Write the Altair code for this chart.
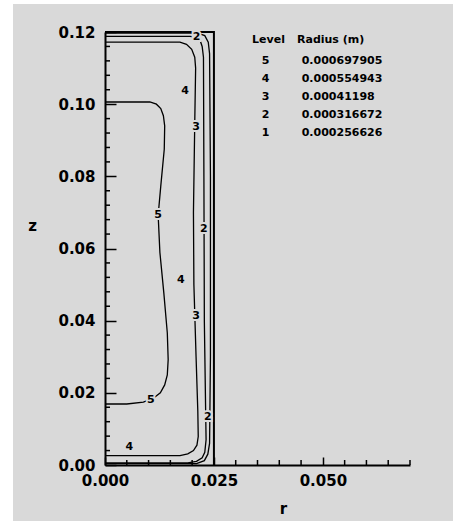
import altair as alt
import pandas as pd

# ---------------- data ----------------
x_tick_labels = [0.0, 0.025, 0.05]
x_minor_ticks = [0.005, 0.01, 0.015, 0.02, 0.03, 0.035, 0.04, 0.045, 0.055, 0.06, 0.065, 0.07]
y_tick_labels = [0.0, 0.02, 0.04, 0.06, 0.08, 0.10, 0.12]
y_minor_ticks = [0.004, 0.008, 0.012, 0.016, 0.024, 0.028, 0.032, 0.036, 0.044, 0.048,
                 0.052, 0.056, 0.064, 0.068, 0.072, 0.076, 0.084, 0.088, 0.092, 0.096,
                 0.104, 0.108, 0.112, 0.116]

# contour lines (r, z)
c5_r = [0, 0.0103, 0.0118, 0.0128, 0.0134, 0.0137, 0.0136, 0.0128, 0.0122, 0.0126, 0.0135, 0.0143, 0.0145, 0.0143, 0.0137, 0.0127, 0.0111, 0.0088, 0.0050, 0]
c5_z = [0.1006, 0.1006, 0.1000, 0.0988, 0.0968, 0.0940, 0.0875, 0.0773, 0.0692, 0.0589, 0.0477, 0.0366, 0.0292, 0.0250, 0.0222, 0.0200, 0.0185, 0.0174, 0.0169, 0.0169]

c3_r = [0, 0.0172, 0.0187, 0.0199, 0.0206, 0.0208, 0.0206, 0.0203, 0.0204, 0.0209, 0.0213, 0.0214, 0.0211, 0.0203, 0.0190, 0.0172, 0]
c3_z = [0.1172, 0.1172, 0.1166, 0.1152, 0.1130, 0.1100, 0.0950, 0.0700, 0.0500, 0.0300, 0.0150, 0.0079, 0.0055, 0.0040, 0.0031, 0.0026, 0.0026]

c2_r = [0, 0.0195, 0.0210, 0.0218, 0.0223, 0.0226, 0.0227, 0.0228, 0.0231, 0.0232, 0.0229, 0.0223, 0.0210, 0.0190, 0]
c2_z = [0.1188, 0.1188, 0.1186, 0.1178, 0.1160, 0.1130, 0.0800, 0.0400, 0.0150, 0.0070, 0.0035, 0.0020, 0.0010, 0.0006, 0.0006]

c1_r = [0, 0.0213, 0.0229, 0.0237, 0.0240, 0.0242, 0.0242, 0.0240, 0.0236, 0.0228, 0.0210, 0]
c1_z = [0.1197, 0.1197, 0.1190, 0.1172, 0.1140, 0.0800, 0.0300, 0.0060, 0.0030, 0.0012, 0.0004, 0.0004]

box_r = [0, 0.025, 0.025]
box_z = [0.12, 0.12, 0.0]

# contour labels
lab_text = ["2", "4", "3", "5", "2", "4", "3", "5", "2", "4"]
lab_r = [0.0210, 0.0184, 0.0209, 0.0122, 0.0227, 0.0174, 0.0209, 0.0105, 0.0236, 0.0056]
lab_z = [0.1185, 0.1036, 0.0936, 0.0692, 0.0655, 0.0514, 0.0414, 0.0181, 0.0134, 0.0049]

# legend table
legend_levels = ["5", "4", "3", "2", "1"]
legend_radius = ["0.000697905", "0.000554943", "0.00041198", "0.000316672", "0.000256626"]

# ---------------- build tables ----------------
rows = []
for name, rr, zz in [("5", c5_r, c5_z), ("3", c3_r, c3_z), ("2", c2_r, c2_z), ("1", c1_r, c1_z)]:
    for i, (a, b) in enumerate(zip(rr, zz)):
        rows.append({"line": name, "i": i, "r": a, "z": b})
lines_df = pd.DataFrame(rows)
box_df = pd.DataFrame({"r": box_r, "z": box_z, "i": range(len(box_r))})
lab_df = pd.DataFrame({"t": lab_text, "r": lab_r, "z": lab_z})
leg_df = pd.DataFrame({"level": legend_levels, "radius": legend_radius, "row": range(len(legend_levels))})

W, H = 305, 433
PADL, PADT = 105, 32
FONT = "DejaVu Sans"
GRAY = "#d9d9d9"
YTICK, XTICK = 11, 8

xscale = alt.Scale(domain=[0, 0.07], nice=False, zero=False)
yscale = alt.Scale(domain=[0, 0.12], nice=False, zero=False)

# major ticks point inward (negative size given as an expression); labels offset to compensate
xaxis = alt.Axis(values=x_tick_labels, format=".3f", ticks=True, tickSize={"expr": str(-XTICK)},
                 tickColor="black", tickWidth=1.5, grid=False,
                 domainColor="black", domainWidth=2, labelFont=FONT, labelFontWeight="bold",
                 labelFontSize=15, labelColor="black", labelPadding=8 + XTICK, labelFlush=False,
                 labelOverlap=False, title="r", titleX=178, titleY=43, titleAlign="center",
                 titleBaseline="middle", titleFont=FONT, titleFontWeight="bold",
                 titleFontSize=15, titleColor="black")
yaxis = alt.Axis(values=y_tick_labels, format=".2f", ticks=True, tickSize={"expr": str(-YTICK)},
                 tickColor="black", tickWidth=1.5, grid=False,
                 domainColor="black", domainWidth=2, labelFont=FONT, labelFontWeight="bold",
                 labelFontSize=15, labelColor="black", labelPadding=10 + YTICK, labelFlush=False,
                 labelOverlap=False, title="z", titleAngle=0, titleX=-73, titleY=193,
                 titleAlign="center", titleBaseline="middle", titleFont=FONT,
                 titleFontWeight="bold", titleFontSize=15, titleColor="black")

strip_left = alt.Chart(pd.DataFrame({"a": [0]})).mark_rect(color="white", clip=False).encode(
    x=alt.value(-PADL), x2=alt.value(13 - PADL), y=alt.value(-PADT), y2=alt.value(521 - PADT))
strip_top = alt.Chart(pd.DataFrame({"a": [1]})).mark_rect(color="white", clip=False).encode(
    x=alt.value(-PADL), x2=alt.value(453 - PADL), y=alt.value(-PADT), y2=alt.value(4 - PADT))

lines = alt.Chart(lines_df).mark_line(color="black", strokeWidth=1.3).encode(
    x=alt.X("r:Q", scale=xscale, axis=xaxis),
    y=alt.Y("z:Q", scale=yscale, axis=yaxis),
    detail="line:N", order="i:Q")

box = alt.Chart(box_df).mark_line(color="black", strokeWidth=2).encode(
    x="r:Q", y="z:Q", order="i:Q")

halo = alt.Chart(lab_df).mark_text(font=FONT, fontWeight="bold", fontSize=11, color=GRAY,
                                   stroke=GRAY, strokeWidth=4).encode(x="r:Q", y="z:Q", text="t:N")
labs = alt.Chart(lab_df).mark_text(font=FONT, fontWeight="bold", fontSize=11, color="black").encode(
    x="r:Q", y="z:Q", text="t:N")

# minor inward ticks
ymin = alt.Chart(pd.DataFrame({"zt": y_minor_ticks})).mark_rule(color="black", strokeWidth=1.5).encode(
    y="zt:Q", x=alt.value(0), x2=alt.value(5))
xmin = alt.Chart(pd.DataFrame({"rt": x_minor_ticks})).mark_rule(color="black", strokeWidth=1.5).encode(
    x="rt:Q", y=alt.value(H), y2=alt.value(H - 5))

leg_base = alt.Chart(leg_df).transform_calculate(py="29 + 18.1 * datum.row")
leg_lvl = leg_base.mark_text(font=FONT, fontWeight="bold", fontSize=11, color="black",
                             align="center", baseline="middle").encode(
    x=alt.value(160.7), y=alt.Y("py:Q", scale=None), text="level:N")
leg_rad = leg_base.mark_text(font=FONT, fontWeight="bold", fontSize=11, color="black",
                             align="left", baseline="middle").encode(
    x=alt.value(196.7), y=alt.Y("py:Q", scale=None), text="radius:N")
hdr_df = pd.DataFrame({"t": ["Level", "Radius (m)"]})
hdr1 = alt.Chart(hdr_df.iloc[[0]]).mark_text(font=FONT, fontWeight="bold", fontSize=11, color="black",
                                             align="center", baseline="middle").encode(
    x=alt.value(163.5), y=alt.value(8), text="t:N")
hdr2 = alt.Chart(hdr_df.iloc[[1]]).mark_text(font=FONT, fontWeight="bold", fontSize=11, color="black",
                                             align="left", baseline="middle").encode(
    x=alt.value(192), y=alt.value(8), text="t:N")

chart = alt.layer(strip_left, strip_top, lines, box, halo, labs, ymin, xmin,
                  leg_lvl, leg_rad, hdr1, hdr2).properties(
    width=W, height=H,
    autosize=alt.AutoSizeParams(type="none"),
    padding={"left": PADL, "top": PADT, "right": 453 - PADL - W, "bottom": 521 - PADT - H},
    background=GRAY,
).configure_view(stroke=None)

chart.save("out.html", embed_options={"renderer": "svg", "actions": False})
